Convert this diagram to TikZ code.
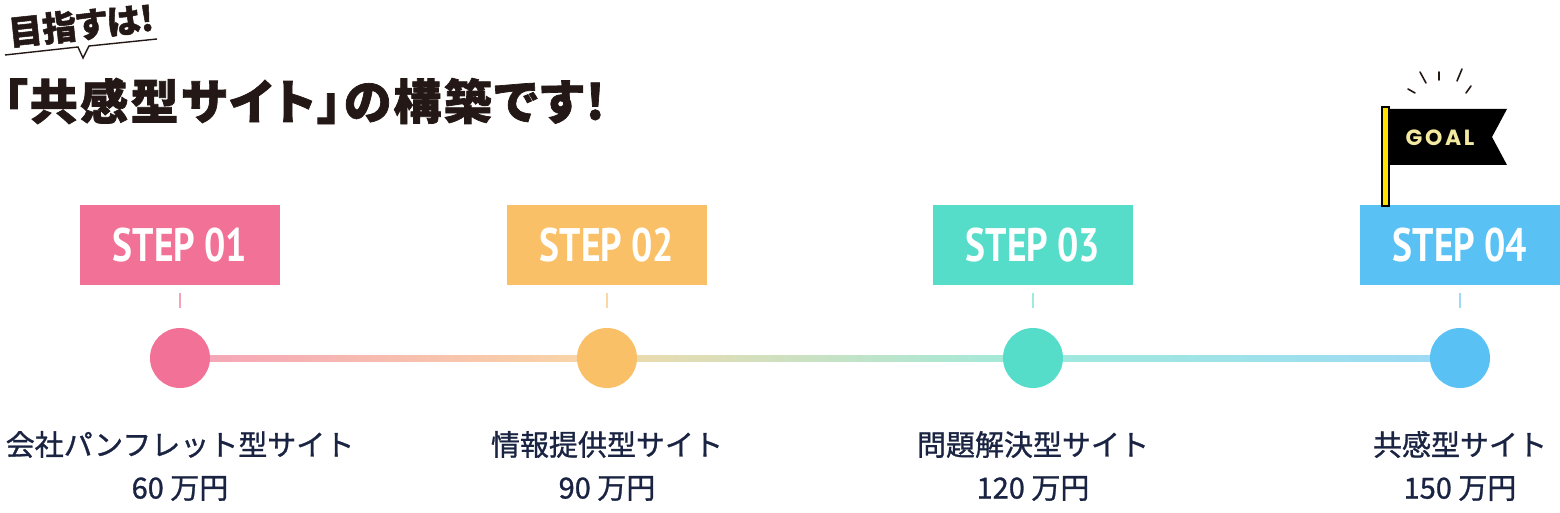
\documentclass[tikz,border=0pt]{standalone}
\usepackage{fontspec}
\usepackage{tikz}
\usetikzlibrary{backgrounds, calc}
\newfontfamily\jpfont[FakeBold=1]{Noto Sans CJK JP}
\newfontfamily\titlefont[RawFeature=+palt, BoldFeatures={FakeBold=1.5}]{Noto Sans CJK JP}
\newfontfamily\stepfont[FakeStretch=0.8]{PT Sans}
\newfontfamily\goalfont[LetterSpace=12]{Poppins}
\definecolor{inkc}{HTML}{231815}
\definecolor{navyc}{HTML}{1A2442}
\definecolor{pinkc}{HTML}{F27196}
\definecolor{orangec}{HTML}{F9C068}
\definecolor{tealc}{HTML}{55DDCA}
\definecolor{bluec}{HTML}{59C1F4}
\definecolor{pinkl}{HTML}{F5A3B8}
\definecolor{orangel}{HTML}{F9D8A6}
\definecolor{teall}{HTML}{9FEADC}
\definecolor{bluel}{HTML}{9ED9F6}
\definecolor{polec}{HTML}{FFE100}
\definecolor{goalc}{HTML}{F4E9A0}
\tikzset{
 stepbox/.style={fill=#1, minimum width=100pt, minimum height=40pt, inner sep=0, text=white, font=\stepfont\bfseries\fontsize{23.5}{26}\selectfont},
 dot/.style={circle, fill=#1, minimum size=30pt, inner sep=0},
 tick/.style={draw=#1, line width=1pt, shorten <=4pt, shorten >=10pt},
 site/.style={align=center, text=navyc, inner sep=0, font=\jpfont\fontsize{14.5}{21.5}\selectfont}
}

\begin{document}
\begin{tikzpicture}[x=0.5pt, y=-0.5pt]
 \useasboundingbox (0,0) rectangle (1560,513);
 \node[rotate=6, inner sep=0, text=inkc, font=\titlefont\bfseries\fontsize{17}{20}\selectfont] (aim) at (81,25) {目指すは!};
 \draw[inkc, line width=0.7pt] (5,55) -- (78,47) -- (83,58) -- (89,46) -- (157,39);
 \node[anchor=west, inner sep=0, text=inkc, font=\titlefont\bfseries\fontsize{24}{27}\selectfont\addfontfeature{LetterSpace=5}] (headline) at (3,101) {「共感型サイト」の構築です!};

 \node[stepbox=pinkc] (step1) at (180,245) {STEP 01};
 \node[stepbox=orangec] (step2) at (607,245) {STEP 02};
 \node[stepbox=tealc] (step3) at (1033,245) {STEP 03};
 \node[stepbox=bluec] (step4) at (1460,245) {STEP 04};

 \node[dot=pinkc] (dot1) at (180,358) {};
 \node[dot=orangec] (dot2) at (607,358) {};
 \node[dot=tealc] (dot3) at (1033,358) {};
 \node[dot=bluec] (dot4) at (1460,358) {};

 \begin{scope}[on background layer]
 \fill[white] (0,0) rectangle (1560,513);
 \shade[left color=pinkl, right color=orangel] ($(dot1.center)+(0,-2)$) rectangle ($(dot2.center)+(0,4)$);
 \shade[left color=orangel!90!teall, right color=teall] ($(dot2.center)+(0,-2)$) rectangle ($(dot3.center)+(0,4)$);
 \shade[left color=teall, right color=bluel] ($(dot3.center)+(0,-2)$) rectangle ($(dot4.center)+(0,4)$);
 \end{scope}

 \draw[tick=pinkl] (step1) -- (dot1);
 \draw[tick=orangel] (step2) -- (dot2);
 \draw[tick=teall] (step3) -- (dot3);
 \draw[tick=bluel] (step4) -- (dot4);

 \node[site] (site1) at (180,466) {会社パンフレット型サイト\\60 万円};
 \node[site] (site2) at (607,466) {情報提供型サイト\\90 万円};
 \node[site] (site3) at (1033,466) {問題解決型サイト\\120 万円};
 \node[site] (site4) at (1460,466) {共感型サイト\\150 万円};

 \fill[black] (1389,109) -- (1507,109) -- (1492,137) -- (1507,165) -- (1389,165) -- cycle;
 \node[text=goalc, inner sep=0, font=\goalfont\bfseries\fontsize{11}{12}\selectfont] (goal) at (1440,138) {GOAL};
 \draw[fill=polec, line width=0.6pt] (1382,107) rectangle (1389,206);
 \draw[inkc, line width=0.8pt, line cap=round] (1408,89) -- (1415,93) (1420,72) -- (1426,83) (1439,72) -- (1439,80) (1462,69) -- (1457,81) (1471,86) -- (1466,93);
\end{tikzpicture}
\end{document}
